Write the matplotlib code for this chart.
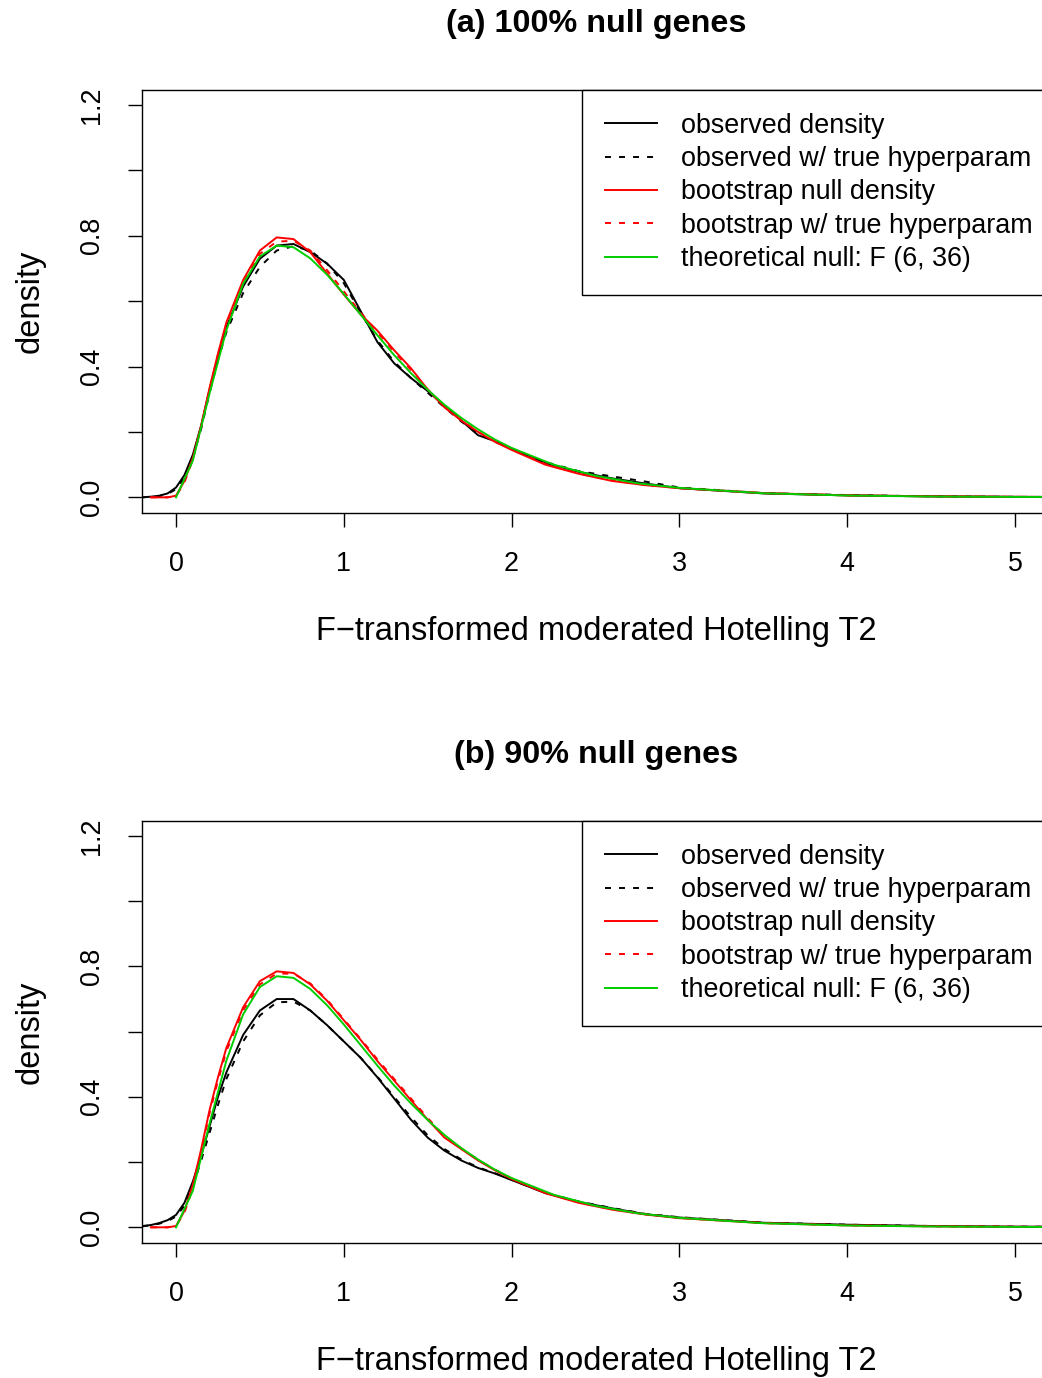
import numpy as np
import matplotlib
matplotlib.use("Agg")
import matplotlib.pyplot as plt
from matplotlib.lines import Line2D

plt.rcParams['font.family'] = ['Liberation Sans', 'DejaVu Sans']
plt.rcParams['lines.scale_dashes'] = False

# ========================
# data
# ========================
x_kde = [-0.2, -0.15, -0.1, -0.05, 0, 0.05, 0.1, 0.15, 0.2, 0.25, 0.3, 0.4, 0.5, 0.6, 0.7, 0.8,
         0.9, 1.0, 1.1, 1.2, 1.3, 1.4, 1.5, 1.6, 1.7, 1.8, 1.9, 2.0, 2.2, 2.4, 2.6, 2.8,
         3.0, 3.5, 4.0, 4.5, 5.0, 5.3]

# (a) 100% null genes
a_obs = [0.0, 0.002, 0.005, 0.012, 0.03, 0.068, 0.13, 0.22, 0.33, 0.43, 0.52, 0.645, 0.73, 0.77, 0.775, 0.75,
         0.715, 0.665, 0.57, 0.475, 0.41, 0.365, 0.325, 0.28, 0.235, 0.19, 0.172, 0.15, 0.105, 0.078, 0.058, 0.042,
         0.028, 0.012, 0.006, 0.003, 0.0015, 0.001]
a_obs_true = [0.0, 0.002, 0.004, 0.01, 0.025, 0.06, 0.12, 0.21, 0.32, 0.42, 0.505, 0.625, 0.705, 0.755, 0.768, 0.755,
              0.715, 0.655, 0.565, 0.48, 0.415, 0.365, 0.32, 0.275, 0.232, 0.195, 0.17, 0.148, 0.108, 0.08, 0.064, 0.048,
              0.03, 0.013, 0.007, 0.003, 0.0015, 0.001]
a_boot = [np.nan, 0.0, 0.0, 0.0, 0.005, 0.05, 0.12, 0.22, 0.335, 0.44, 0.535, 0.665, 0.755, 0.795, 0.79, 0.75,
          0.685, 0.62, 0.56, 0.51, 0.45, 0.395, 0.33, 0.275, 0.235, 0.2, 0.17, 0.145, 0.1, 0.072, 0.05, 0.037,
          0.028, 0.013, 0.006, 0.003, 0.0015, 0.001]
a_boot_true = [np.nan, 0.0, 0.0, 0.0, 0.004, 0.045, 0.115, 0.215, 0.33, 0.435, 0.525, 0.655, 0.745, 0.782, 0.785, 0.755,
               0.695, 0.63, 0.565, 0.505, 0.445, 0.39, 0.33, 0.278, 0.236, 0.2, 0.172, 0.147, 0.102, 0.073, 0.052, 0.038,
               0.028, 0.013, 0.006, 0.003, 0.0015, 0.001]

# (b) 90% null genes
b_obs = [0.004, 0.007, 0.013, 0.022, 0.038, 0.075, 0.14, 0.22, 0.31, 0.4, 0.475, 0.59, 0.665, 0.7, 0.7, 0.665,
         0.62, 0.57, 0.52, 0.46, 0.395, 0.33, 0.275, 0.235, 0.205, 0.182, 0.165, 0.145, 0.105, 0.078, 0.058, 0.04,
         0.03, 0.014, 0.008, 0.004, 0.002, 0.0015]
b_obs_true = [0.003, 0.006, 0.011, 0.019, 0.033, 0.066, 0.125, 0.205, 0.29, 0.375, 0.455, 0.57, 0.65, 0.69, 0.692, 0.665,
              0.62, 0.57, 0.52, 0.462, 0.4, 0.338, 0.282, 0.24, 0.208, 0.184, 0.166, 0.146, 0.106, 0.079, 0.059, 0.041,
              0.031, 0.014, 0.008, 0.004, 0.002, 0.0015]
b_boot = [np.nan, 0.0, 0.0, 0.0, 0.004, 0.05, 0.13, 0.24, 0.36, 0.46, 0.55, 0.675, 0.755, 0.785, 0.78, 0.745,
          0.695, 0.635, 0.575, 0.51, 0.45, 0.39, 0.33, 0.275, 0.24, 0.205, 0.175, 0.148, 0.105, 0.075, 0.054, 0.039,
          0.028, 0.013, 0.006, 0.003, 0.0015, 0.001]
b_boot_true = [np.nan, 0.0, 0.0, 0.0, 0.004, 0.045, 0.12, 0.23, 0.35, 0.45, 0.54, 0.665, 0.745, 0.778, 0.778, 0.748,
               0.698, 0.638, 0.578, 0.515, 0.455, 0.395, 0.335, 0.28, 0.242, 0.207, 0.177, 0.15, 0.106, 0.076, 0.055, 0.04,
               0.029, 0.013, 0.006, 0.003, 0.0015, 0.001]

# theoretical null F(6, 36), same in both panels
x_theo = [0, 0.1, 0.2, 0.3, 0.4, 0.5, 0.6, 0.7, 0.8, 0.9, 1.0, 1.1, 1.2, 1.3, 1.4, 1.5, 1.6, 1.7, 1.8, 1.9,
          2.0, 2.25, 2.5, 2.75, 3.0, 3.5, 4.0, 4.5, 5.0, 5.5]
f_theo = [0.0, 0.112, 0.318, 0.511, 0.653, 0.737, 0.770, 0.765, 0.731, 0.681, 0.622, 0.559, 0.496, 0.435, 0.380,
          0.329, 0.283, 0.243, 0.208, 0.177, 0.151, 0.100, 0.066, 0.043, 0.029, 0.0125, 0.0056, 0.0025, 0.0012, 0.0006]

titles = ["(a) 100% null genes", "(b) 90% null genes"]
legend_labels = ["observed density", "observed w/ true hyperparam", "bootstrap null density",
                 "bootstrap w/ true hyperparam", "theoretical null: F (6, 36)"]

GREEN = "#00CD00"
FS = 19.4       # axis / legend text
FS_LAB = 23.5   # axis titles (cex.lab = 1.2)
LW = 1.4
DASH = (0, (4.3, 5.8))


def draw_panel(ax, title, obs, obs_true, boot, boot_true):
    ax.plot(x_kde, obs, color="black", lw=LW)
    ax.plot(x_kde, obs_true, color="black", lw=LW, linestyle=DASH)
    ax.plot(x_kde, boot, color="red", lw=LW)
    ax.plot(x_kde, boot_true, color="red", lw=LW, linestyle=DASH)
    ax.plot(x_theo, f_theo, color=GREEN, lw=LW)

    ax.set_xlim(-0.2026, 5.2086)
    ax.set_ylim(-0.048, 1.246)
    ax.set_xticks([0, 1, 2, 3, 4, 5])
    ax.set_xticklabels(["0", "1", "2", "3", "4", "5"])
    ax.set_yticks([0, 0.2, 0.4, 0.6, 0.8, 1.0, 1.2])
    ax.set_yticklabels(["0.0", "", "0.4", "", "0.8", "", "1.2"], rotation=90, va="center")
    ax.tick_params(direction="out", length=10, width=1, labelsize=FS, colors="black")
    ax.tick_params(axis="x", pad=17.5)
    ax.tick_params(axis="y", pad=17)
    for sp in ax.spines.values():
        sp.set_linewidth(1)
        sp.set_color("black")

    ax.set_xlabel("F\u2212transformed moderated Hotelling T2", fontsize=FS_LAB, labelpad=28)
    ax.set_ylabel("density", fontsize=FS_LAB, labelpad=24)
    ax.set_title(title, fontsize=FS * 1.2, fontweight="bold", pad=42)

    handles = [Line2D([], [], color="black", lw=LW),
               Line2D([], [], color="black", lw=LW, linestyle=DASH),
               Line2D([], [], color="red", lw=LW),
               Line2D([], [], color="red", lw=LW, linestyle=DASH),
               Line2D([], [], color=GREEN, lw=LW)]
    leg = ax.legend(handles, legend_labels, loc="upper left", bbox_to_anchor=(0.4846, 1.0),
                    borderaxespad=0, fontsize=FS, frameon=True, fancybox=False, framealpha=1,
                    edgecolor="black", borderpad=0.84, labelspacing=0.275, handlelength=1.93,
                    handletextpad=0.89)
    leg.get_frame().set_linewidth(1)


fig = plt.figure(figsize=(10.42, 13.78), dpi=100)
ax1 = fig.add_axes([0.1363, 0.6277, 0.8714, 0.307])
ax2 = fig.add_axes([0.1363, 0.098, 0.8714, 0.3062])

draw_panel(ax1, titles[0], a_obs, a_obs_true, a_boot, a_boot_true)
draw_panel(ax2, titles[1], b_obs, b_obs_true, b_boot, b_boot_true)

fig.savefig("out.png", dpi=100)
